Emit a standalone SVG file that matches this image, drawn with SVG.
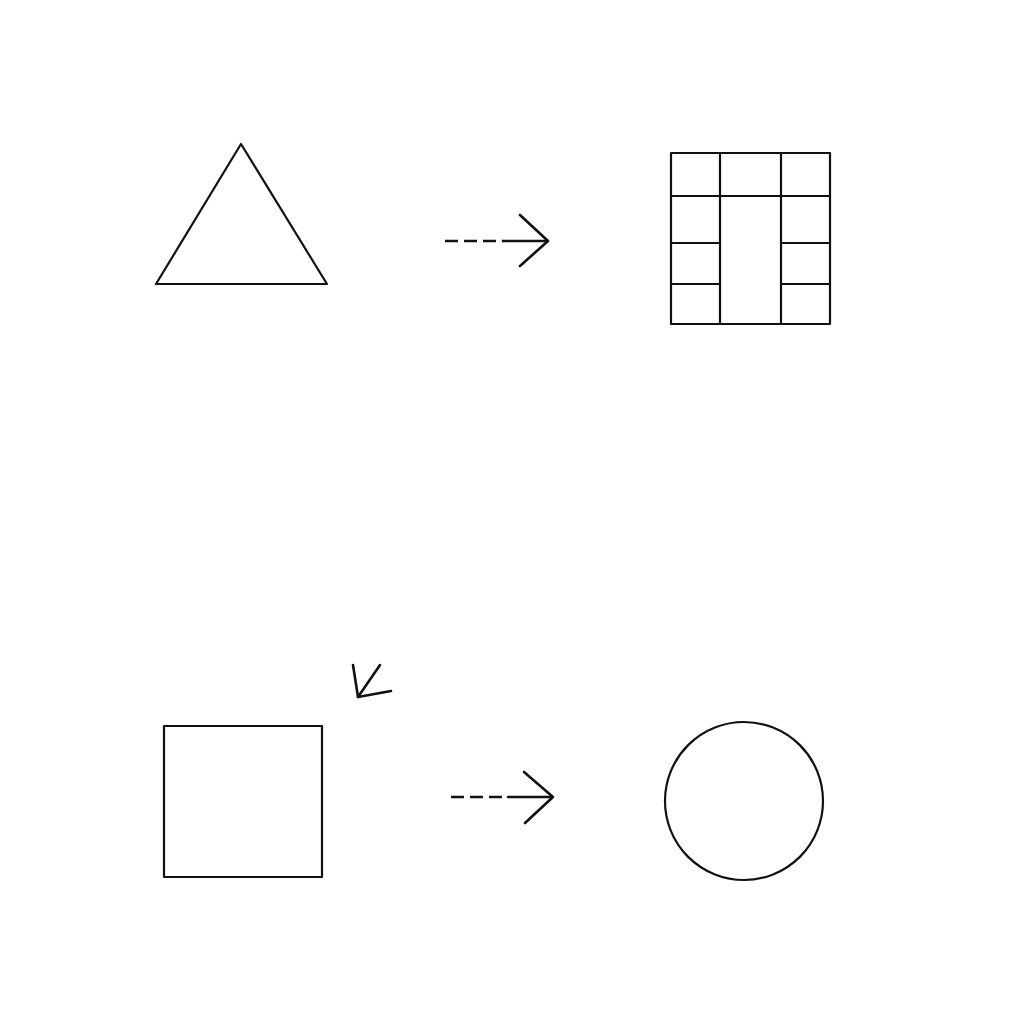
<svg xmlns="http://www.w3.org/2000/svg" width="1024" height="1024" viewBox="0 0 1024 1024">
<style>
.shape{fill:none;stroke:#111;stroke-width:2.2;stroke-linejoin:round}
.dash{fill:none;stroke:#111;stroke-width:2.6;stroke-dasharray:13 6}
.solid{fill:none;stroke:#111;stroke-width:2.6;stroke-linecap:round;stroke-linejoin:round}
</style>
<rect width="1024" height="1024" fill="#fff"/>
<g id="triangle"><polygon class="shape" points="241,144 156,284 327,284"/></g>
<g id="grid">
<rect class="shape" x="671" y="153" width="159" height="171"/>
<line class="shape" x1="720" y1="153" x2="720" y2="324"/>
<line class="shape" x1="781" y1="153" x2="781" y2="324"/>
<line class="shape" x1="671" y1="196" x2="830" y2="196"/>
<line class="shape" x1="671" y1="243" x2="720" y2="243"/>
<line class="shape" x1="671" y1="284" x2="720" y2="284"/>
<line class="shape" x1="781" y1="243" x2="830" y2="243"/>
<line class="shape" x1="781" y1="284" x2="830" y2="284"/>
</g>
<g id="square"><rect class="shape" x="164" y="726" width="158" height="151"/></g>
<g id="circle"><circle class="shape" cx="744" cy="801" r="79"/></g>
<g id="connectors">
<g id="arrow1">
<line class="dash" x1="445" y1="241" x2="503" y2="241"/>
<line class="solid" x1="503" y1="241" x2="547" y2="241"/>
<polyline class="solid" points="520,215 548,241 520,266"/>
</g>
<g id="arrow2">
<line class="dash" x1="451" y1="797" x2="508" y2="797"/>
<line class="solid" x1="508" y1="797" x2="552" y2="797"/>
<polyline class="solid" points="524,772 553,797 525,823"/>
</g>
<g id="arrow3">
<line class="solid" x1="380" y1="665" x2="358" y2="697"/>
<polyline class="solid" points="353,665 358,697 391,691"/>
</g>
</g>
</svg>
